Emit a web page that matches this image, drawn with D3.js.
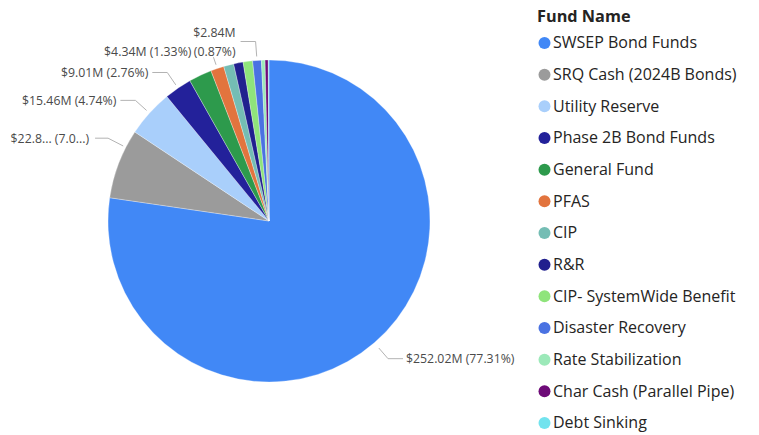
<!DOCTYPE html>
<html>
<head>
<meta charset="utf-8">
<script src="https://cdn.jsdelivr.net/npm/d3@7"></script>
<style>
  html, body { margin: 0; padding: 0; background: #ffffff; }
  svg { display: block; }
  text { font-family: "Open Sans", "Noto Sans", sans-serif; }
</style>
</head>
<body>
<svg id="chart" width="759" height="435"></svg>
<script>
// ---- DATA ----
const legendTitle = "Fund Name";
const categories = [
  "SWSEP Bond Funds",
  "SRQ Cash (2024B Bonds)",
  "Utility Reserve",
  "Phase 2B Bond Funds",
  "General Fund",
  "PFAS",
  "CIP",
  "R&R",
  "CIP- SystemWide Benefit",
  "Disaster Recovery",
  "Rate Stabilization",
  "Char Cash (Parallel Pipe)",
  "Debt Sinking"
];
// values in $ millions
const values = [252.02, 22.85, 15.46, 9.01, 7.52, 4.34, 3.30, 3.10, 3.10, 2.84, 1.18, 1.04, 0.23];
const colors = [
  "#4188F6", "#9B9B9B", "#A9CFFB", "#23219A", "#2D9A4C", "#E2743E", "#74BDB4",
  "#21208E", "#8FE47B", "#4A72E2", "#9CE9B9", "#6E0B78", "#72E3EE"
];
// slices that carry a data label
const labelledSlices = ["SWSEP Bond Funds", "SRQ Cash (2024B Bonds)", "Utility Reserve",
  "Phase 2B Bond Funds", "PFAS", "Disaster Recovery"];

// ---- LAYOUT ----
const svg = d3.select("#chart");
const cx = 269, cy = 221, R = 161;
const total = d3.sum(values);
const rows = categories.map((c, i) => ({ name: c, value: values[i], color: colors[i], pct: values[i] / total * 100 }));

const pie = d3.pie().value(d => d.value).sort(null).startAngle(0).endAngle(2 * Math.PI);
const arcs = pie(rows);
const arc = d3.arc().innerRadius(0).outerRadius(R);

const g = svg.append("g").attr("transform", `translate(${cx},${cy})`);
g.selectAll("path.slice").data(arcs).join("path")
  .attr("class", "slice")
  .attr("d", arc)
  .attr("fill", d => d.data.color)
  .attr("stroke", "#ffffff")
  .attr("stroke-width", 0.3);

// label formatting
const fmtVal = v => "$" + v.toFixed(2) + "M";
const fmtPct = p => "(" + p.toFixed(2) + "%)";
function truncVal(s, n) { return s.length > n ? s.slice(0, n) + "..." : s; }
function truncPct(s, n) { return s.length > n ? s.slice(0, n) + "...)" : s; }

// label placement rules (Power BI-like outside labels with leader lines)
const labelRules = {
  "SWSEP Bond Funds":       { a0: R + 7, a1: R + 21, h: 15, gap: 3 },
  "SRQ Cash (2024B Bonds)": { a0: R + 3, a1: R + 20, h: 13, gap: 6, shift: 6.3, trunc: [5, 4] },
  "Utility Reserve":        { a0: R + 4, a1: R + 19, h: 15, gap: 4 },
  "Phase 2B Bond Funds":    { a0: R + 4, a1: R + 19, h: 15, gap: 4 },
  "PFAS":                   { a0: R + 4, a1: R + 12, h: 0, gap: 22, dy: -5 },
  "Disaster Recovery":      { a0: R + 4, a1: R + 19, h: 15, gap: 5, twoLine: true }
};

const pt = (ang, r) => [Math.sin(ang) * r, -Math.cos(ang) * r];
const labG = g.append("g");
arcs.filter(d => labelledSlices.includes(d.data.name)).forEach(d => {
  const rule = labelRules[d.data.name];
  const ang = (d.startAngle + d.endAngle) / 2 + (rule.shift || 0) * Math.PI / 180;
  const p0 = pt(ang, rule.a0), p1 = pt(ang, rule.a1);
  const right = Math.sin(ang) > 0;
  const dir = right ? 1 : -1;
  const p2 = [p1[0] + dir * rule.h, p1[1]];
  labG.append("polyline")
    .attr("points", [p0, p1, p2].map(p => p.join(",")).join(" "))
    .attr("fill", "none").attr("stroke", "#b3b3b3").attr("stroke-width", 1);
  let sv = fmtVal(d.data.value), sp = fmtPct(d.data.pct);
  if (rule.trunc) { sv = truncVal(sv, rule.trunc[0]); sp = truncPct(sp, rule.trunc[1]); }
  const tx = p2[0] + dir * rule.gap;
  const ty = p2[1] + (rule.dy || 0);
  const t = labG.append("text")
    .attr("x", tx).attr("y", ty)
    .attr("text-anchor", right ? "start" : "end")
    .attr("font-size", 12.3).attr("fill", "#4a4a4a");
  if (rule.twoLine) {
    t.append("tspan").attr("x", tx).attr("y", ty - 9).attr("dy", "0.35em").text(sv);
    t.append("tspan").attr("x", tx).attr("y", ty + 10).attr("dy", "0.35em").text(sp);
  } else {
    t.attr("dy", "0.35em").text(sv + " " + sp);
  }
});

// ---- LEGEND ----
const lg = svg.append("g");
lg.append("text").attr("x", 537).attr("y", 16).attr("dy", "0.35em")
  .attr("font-size", 16.3).attr("font-weight", "bold").attr("fill", "#252423").text(legendTitle);
const ly = d3.scalePoint().domain(categories).range([43, 423]);
const items = lg.selectAll("g.item").data(rows).join("g").attr("class", "item")
  .attr("transform", d => `translate(0,${ly(d.name)})`);
items.append("circle").attr("cx", 544.5).attr("cy", 0).attr("r", 6).attr("fill", d => d.color);
items.append("text").attr("x", 553).attr("y", 0).attr("dy", "0.33em")
  .attr("font-size", 16).attr("fill", "#252423").text(d => d.name);
</script>
</body>
</html>
